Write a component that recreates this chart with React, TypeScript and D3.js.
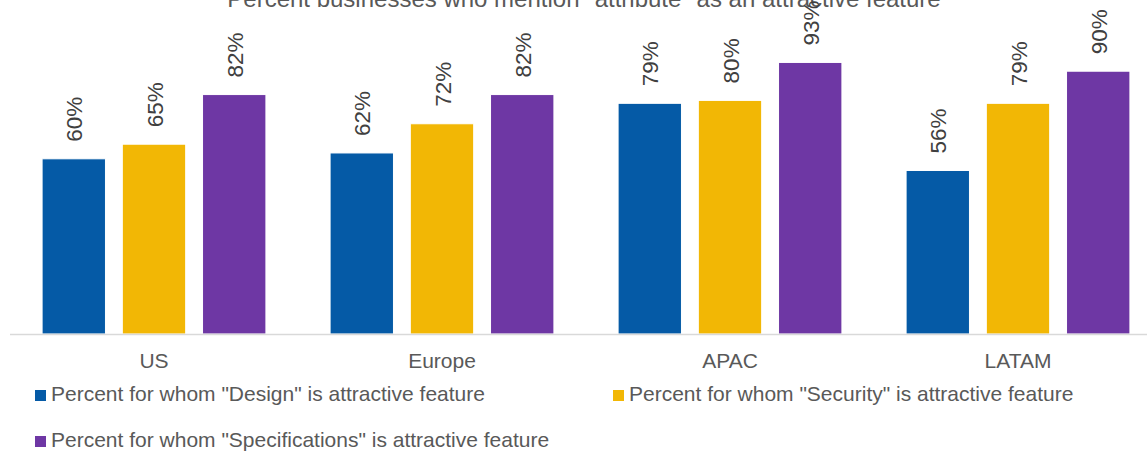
import React from "react";
import * as d3 from "d3";

const categories = ["US", "Europe", "APAC", "LATAM"];
const seriesNames = [
  'Percent for whom "Design" is attractive feature',
  'Percent for whom "Security" is attractive feature',
  'Percent for whom "Specifications" is attractive feature',
];
const design = [60, 62, 79, 56];
const security = [65, 72, 80, 79];
const specifications = [82, 82, 93, 90];
const colors = ["#055AA6", "#F2B705", "#6E37A4"];
const title = 'Percent businesses who mention "attribute" as an attractive feature';

const W = 1147;
const H = 452;
const FONT = "'Liberation Sans', Arial, sans-serif";

export default function App() {
  const series = [design, security, specifications];
  const x0 = d3.scaleBand<string>().domain(categories).range([10, 1162]).paddingInner(0).paddingOuter(0);
  const x1 = d3.scaleBand<number>().domain([0, 1, 2]).range([0, x0.bandwidth()]).paddingInner(0.21).paddingOuter(0.4);
  const y = d3.scaleLinear().domain([0, 100]).range([334, 42]);

  return (
    <svg width={W} height={H} style={{ position: "absolute", left: 0, top: 0, display: "block" }} fontFamily={FONT}>
      <rect width={W} height={H} fill="#fff" />
      <text x={584} y={7} textAnchor="middle" fontSize={24} fill="#595959">{title}</text>
      {categories.map((c, ci) =>
        series.map((s, si) => {
          const bx = (x0(c) as number) + (x1(si) as number);
          const bw = x1.bandwidth();
          const top = y(s[ci]);
          const cx = bx + bw / 2;
          return (
            <g key={c + si}>
              <rect x={bx} y={top} width={bw} height={y(0) - top} fill={colors[si]} stroke="#ffffff" strokeWidth={1} />
              <text
                transform={`translate(${cx + 8.5},${top - 17}) rotate(-90)`}
                fontSize={22.5}
                fill="#404040"
                textAnchor="start"
              >
                {s[ci]}%
              </text>
            </g>
          );
        })
      )}
      <line x1={10} x2={W} y1={334.5} y2={334.5} stroke="#d9d9d9" strokeWidth={1.5} />
      {categories.map((c) => (
        <text key={c} x={(x0(c) as number) + x0.bandwidth() / 2} y={368} textAnchor="middle" fontSize={21} fill="#595959">
          {c}
        </text>
      ))}
      {seriesNames.map((n, i) => {
        const lx = i === 1 ? 613 : 35;
        const ly = i === 2 ? 447 : 401;
        return (
          <g key={n}>
            <rect x={lx} y={ly - 11} width={11} height={11} fill={colors[i]} />
            <text x={lx + 16} y={ly} fontSize={21} fill="#595959">{n}</text>
          </g>
        );
      })}
    </svg>
  );
}
